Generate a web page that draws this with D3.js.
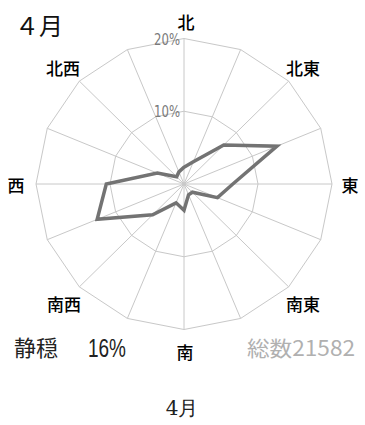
<!DOCTYPE html>
<html><head><meta charset="utf-8">
<script src="https://cdn.jsdelivr.net/npm/d3@7/dist/d3.min.js"></script>
<style>body{margin:0;background:#fff}svg{display:block}</style>
</head><body>
<script>
const directions = ["北","北北東","北東","東北東","東","東南東","南東","南南東","南","南南西","南西","西南西","西","西北西","北西","北北西"];
const values = [2.3, 3.3, 7.6, 13.6, 6.6, 4.9, 1.6, 1.6, 3.6, 2.8, 6.0, 12.7, 10.5, 3.9, 1.4, 1.8];
const ringTicks = [10, 20];
const ringLabels = ["10%", "20%"];
const dirLabels = ["北","北東","東","南東","南","南西","西","北西"];
const calmLabel = "静穏";
const calmValue = "16%";
const totalLabel = "総数21582";
const titleTop = "４月";
const titleBottom = "4月";

const W = 365, H = 425, cx = 184, cy = 184;
const svg = d3.select("body").append("svg").attr("width", W).attr("height", H);
const rx = d3.scaleLinear().domain([0, 20]).range([0, 148]);
const ry = d3.scaleLinear().domain([0, 20]).range([0, 145.5]);
const ang = d3.scaleLinear().domain([0, directions.length]).range([0, 2 * Math.PI]);
const px = (i, v) => cx + rx(v) * Math.sin(ang(i));
const py = (i, v) => cy - ry(v) * Math.cos(ang(i));

const g = svg.append("g");
// spokes
directions.forEach((d, i) => {
  g.append("line").attr("x1", cx).attr("y1", cy)
    .attr("x2", px(i, 20)).attr("y2", py(i, 20))
    .attr("stroke", "#c8c8c8").attr("stroke-width", 1);
});
// rings
ringTicks.forEach(t => {
  const pts = directions.map((d, i) => [px(i, t), py(i, t)]);
  g.append("path").attr("d", d3.line().curve(d3.curveLinearClosed)(pts))
    .attr("fill", "none").attr("stroke", "#c8c8c8").attr("stroke-width", 1);
});
// ring labels
ringTicks.forEach((t, k) => {
  g.append("text").attr("x", cx - 4).attr("y", py(0, t) + 6)
    .attr("text-anchor", "end").attr("font-family", "DejaVu Sans Condensed, DejaVu Sans")
    .attr("font-size", 16).attr("textLength", 26).attr("lengthAdjust", "spacingAndGlyphs")
    .attr("fill", "#7a7a7a").text(ringLabels[k]);
});
// data polygon
const dataPts = values.map((v, i) => [px(i, v), py(i, v)]);
g.append("path").attr("d", d3.line().curve(d3.curveLinearClosed)(dataPts))
  .attr("fill", "none").attr("stroke", "#737373").attr("stroke-width", 3.5)
  .attr("stroke-linejoin", "miter");

// direction labels
const labPos = [[186, 21], [303, 67], [350, 184], [303, 303], [185, 351], [16, 184], [64, 303], [63, 67]];
const labOrder = [0, 1, 2, 3, 4, 6, 5, 7];
dirLabels.forEach((l, k) => {
  const p = labPos[labOrder[k]];
  svg.append("text").attr("x", p[0]).attr("y", p[1])
    .attr("text-anchor", "middle").attr("dominant-baseline", "central")
    .attr("font-family", "Noto Sans CJK JP").attr("font-weight", 500)
    .attr("font-size", 17).attr("fill", "#000").text(l);
});

svg.append("text").attr("x", 15).attr("y", 35)
  .attr("font-family", "Noto Sans CJK JP").attr("font-size", 24).attr("fill", "#111").text(titleTop);

svg.append("text").attr("x", 14).attr("y", 356)
  .attr("font-family", "Noto Sans CJK JP").attr("font-size", 22).attr("fill", "#222").text(calmLabel);
svg.append("text").attr("x", 88).attr("y", 357)
  .attr("font-family", "Liberation Sans").attr("font-size", 26)
  .attr("textLength", 38).attr("lengthAdjust", "spacingAndGlyphs").attr("fill", "#222").text(calmValue);

svg.append("text").attr("x", 247).attr("y", 356)
  .attr("font-family", "Noto Sans CJK JP").attr("font-size", 21)
  .attr("textLength", 108).attr("lengthAdjust", "spacingAndGlyphs").attr("fill", "#b0b0b0").text(totalLabel);

svg.append("text").attr("x", 182).attr("y", 415).attr("text-anchor", "middle")
  .attr("font-family", "DejaVu Serif, serif").attr("font-size", 20).attr("fill", "#222").text(titleBottom);
</script>
</body></html>
